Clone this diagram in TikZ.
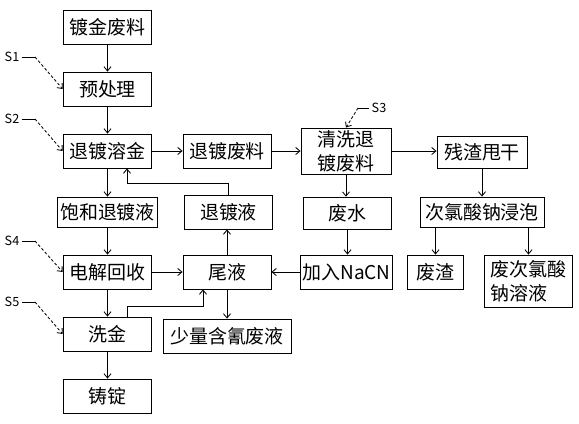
\documentclass[tikz,border=0pt]{standalone}
\usepackage{fontspec}
\setmainfont{Noto Sans CJK SC}
\usetikzlibrary{arrows.meta}
\tikzset{
  box/.style={draw,line width=0.6pt,minimum width=2.22cm,minimum height=0.85cm,inner sep=1.5pt,font=\fontsize{13.5}{17}\selectfont},
  flow/.style={line width=0.6pt,-{Straight Barb[length=3pt,width=5pt]}},
  steplabel/.style={font=\fontsize{9}{10}\selectfont,inner sep=0pt},
  leader/.style={line width=0.6pt,dash pattern=on 2pt off 1.5pt,-{Straight Barb[length=3pt,width=5pt]}}
}
\begin{document}
\begin{tikzpicture}[x=0.025cm,y=-0.025cm]
  \useasboundingbox (0,0) rectangle (579,423);

  % left column
  \node[box] (djfl) at (107.5,27) {镀金废料};
  \node[box] (ycl) at (107.5,89) {预处理};
  \node[box] (tdrj) at (107.5,151) {退镀溶金};
  \node[box,minimum width=2.52cm,minimum height=0.75cm] (bhtdy) at (107.5,212) {饱和退镀液};
  \node[box] (djhs) at (107.5,272) {电解回收};
  \node[box] (xj) at (107.5,334) {洗金};
  \node[box] (zd) at (107.5,396) {铸锭};

  % middle column
  \node[box,minimum width=2.2cm] (tdfl) at (227,151) {退镀废料};
  \node[box] (tdy) at (228.5,212) {退镀液};
  \node[box,minimum width=2.2cm] (wy) at (227,272) {尾液};
  \node[box,minimum width=3.2cm] (slfy) at (227,336) {少量含氰废液};

  % cleaning column
  \node[box,minimum width=2.25cm,minimum height=1.15cm,align=center] (qxfl) at (346,151) {清洗退\\镀废料};
  \node[box,minimum height=0.82cm] (fs) at (347.5,213.5) {废水};
  \node[box] (nacn) at (346.5,272) {加入NaCN};

  % right column
  \node[box,minimum width=2.25cm,minimum height=0.8cm] (czsg) at (482,152) {残渣甩干};
  \node[box,minimum width=3.1cm,minimum height=0.75cm] (clsn) at (482,212) {次氯酸钠浸泡};
  \node[box,minimum width=1.38cm] (fz) at (435.5,272) {废渣};
  \node[box,minimum height=1.3cm,align=left] (fcl) at (528.5,281) {废次氯酸\\钠溶液};

  % main flow
  \draw[flow] (djfl) -- (ycl);
  \draw[flow] (ycl) -- (tdrj);
  \draw[flow] (tdrj) -- (tdfl);
  \draw[flow] (tdfl) -- (qxfl);
  \draw[flow] (qxfl.east) -- (qxfl.east -| czsg.west);
  \draw[flow] (tdrj) -- (bhtdy);
  \draw[flow] (bhtdy) -- (djhs);
  \draw[flow] (djhs) -- (wy);
  \draw[flow] (djhs) -- (xj);
  \draw[flow] (xj) -- (zd);
  \draw[flow] (nacn) -- (wy);
  \draw[flow] (wy.north) -- (wy.north |- tdy.south);
  \draw[flow] (wy) -- (slfy);
  \draw[flow] (qxfl.south) -- (qxfl.south |- fs.north);
  \draw[flow] (fs.south) -- (fs.south |- nacn.north);
  \draw[flow] (czsg) -- (clsn);
  \draw[flow] (clsn.south -| fz) -- (fz);
  \draw[flow] (clsn.south -| fcl) -- (fcl);

  % return lines
  \coordinate (back) at (127,183);
  \draw[flow] (tdy.north) |- (back) -- (back |- tdrj.south);
  \coordinate (wash) at (127,306);
  \coordinate (tail) at (203,306);
  \draw[flow] (wash |- xj.north) -- (wash) -- (tail) -- (tail |- wy.south);

  % step labels
  \foreach \s/\y/\t in {S1/57/ycl, S2/119/tdrj, S4/241/djhs, S5/302/xj} {
    \node[steplabel] (\s) at (12,\y) {\s};
    \coordinate (\s k) at (35,\y);
    \draw[line width=0.6pt] (\s.east) ++(2,0) -- (\s k);
    \draw[leader] (\s k) -- (\t.west);
  }
  \node[steplabel] (S3) at (379,108) {S3};
  \coordinate (S3k) at (358,108);
  \draw[line width=0.6pt] (S3.west) ++(-2,0) -- (S3k);
  \draw[leader] (S3k) -- (qxfl.north);
\end{tikzpicture}
\end{document}
